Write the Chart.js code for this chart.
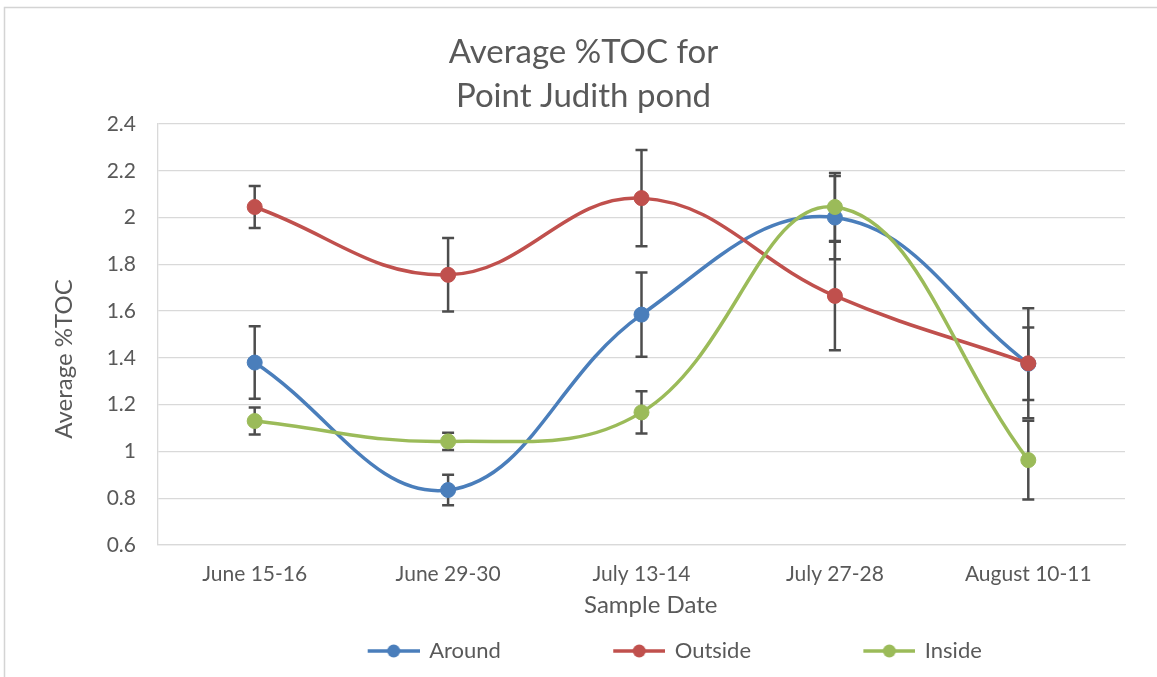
<!DOCTYPE html>
<html>
<head>
<meta charset="utf-8">
<script src="https://cdn.jsdelivr.net/npm/chart.js@4"></script>
<style>
  body { margin: 0; background: #fff; }
</style>
</head>
<body>
<canvas id="tocChart" width="1157" height="677"></canvas>
<script>
const sampleDates = ['June 15-16', 'June 29-30', 'July 13-14', 'July 27-28', 'August 10-11'];

const around = [1.38, 0.835, 1.585, 2.0, 1.375];
const aroundErr = [0.155, 0.065, 0.18, 0.178, 0.155];

const outside = [2.045, 1.755, 2.083, 1.665, 1.377];
const outsideErr = [0.09, 0.157, 0.206, 0.232, 0.235];

const inside = [1.13, 1.043, 1.167, 2.045, 0.963];
const insideErr = [0.058, 0.037, 0.09, 0.145, 0.168];

const yTicks = [0.6, 0.8, 1, 1.2, 1.4, 1.6, 1.8, 2, 2.2, 2.4];

const TEXT = '#595959';
const GRID = '#d9d9d9';

// legend marker: blank lead-in, then line with a dot
function legendMarker(color) {
    const c = document.createElement('canvas');
    c.width = 120;
    c.height = 16;
    const g = c.getContext('2d');
    g.strokeStyle = color;
    g.lineWidth = 3.5;
    g.beginPath();
    g.moveTo(68, 8);
    g.lineTo(120, 8);
    g.stroke();
    g.fillStyle = color;
    g.beginPath();
    g.arc(94, 8, 6.5, 0, Math.PI * 2);
    g.fill();
    return c;
}

const errorBars = {
    id: 'errorBars',
    beforeDatasetsDraw(chart) {
        const { ctx, scales: { x, y } } = chart;
        ctx.save();
        ctx.strokeStyle = '#4d4d4d';
        ctx.lineWidth = 2.5;
        chart.data.datasets.forEach(ds => {
            ds.errors.forEach((e, i) => {
                const px = x.getPixelForValue(i);
                const top = y.getPixelForValue(ds.data[i] + e);
                const bot = y.getPixelForValue(ds.data[i] - e);
                ctx.beginPath();
                ctx.moveTo(px, top); ctx.lineTo(px, bot);
                ctx.moveTo(px - 6, top); ctx.lineTo(px + 6, top);
                ctx.moveTo(px - 6, bot); ctx.lineTo(px + 6, bot);
                ctx.stroke();
            });
        });
        ctx.restore();
    }
};

const frame = {
    id: 'frame',
    beforeDraw(chart) {
        const ctx = chart.ctx;
        ctx.save();
        ctx.fillStyle = '#fff';
        ctx.fillRect(0, 0, chart.width, chart.height);
        ctx.strokeStyle = '#d4d4d4';
        ctx.lineWidth = 1.5;
        ctx.strokeRect(4.5, 7.5, chart.width, chart.height);
        ctx.restore();
    }
};

const series = [
    { label: 'Around', data: around, errors: aroundErr, color: '#4a7ebb', order: 3 },
    { label: 'Outside', data: outside, errors: outsideErr, color: '#c0504d', order: 2 },
    { label: 'Inside', data: inside, errors: insideErr, color: '#9bbb59', order: 1 }
];

const legendGap = '      ';

new Chart(document.getElementById('tocChart'), {
    type: 'line',
    data: {
        labels: sampleDates,
        datasets: series.map(s => ({
            label: s.label,
            data: s.data,
            errors: s.errors,
            order: s.order,
            borderColor: s.color,
            backgroundColor: s.color,
            borderWidth: 3.5,
            pointRadius: 7.5,
            pointBorderWidth: 1,
            pointHoverRadius: 7.5,
            tension: 0.4,
            fill: false
        }))
    },
    options: {
        responsive: false,
        animation: false,
        layout: { padding: { left: 42, right: 32, top: 8, bottom: 5 } },
        font: { family: 'Lato' },
        plugins: {
            title: {
                display: true,
                text: ['Average %TOC for', 'Point Judith pond'],
                color: TEXT,
                font: { family: 'Lato', size: 33, weight: 'normal', lineHeight: 1.333 },
                padding: { top: 22, bottom: 6 }
            },
            legend: {
                position: 'bottom',
                fullSize: false,
                labels: {
                    color: TEXT,
                    font: { family: 'Lato', size: 22 },
                    usePointStyle: true,
                    pointStyleWidth: 117,
                    padding: 12,
                    generateLabels(chart) {
                        return chart.data.datasets.map((ds, i) => ({
                            text: ds.label + (i < chart.data.datasets.length - 1 ? legendGap : ''),
                            fillStyle: ds.borderColor,
                            strokeStyle: ds.borderColor,
                            fontColor: TEXT,
                            lineWidth: 0,
                            pointStyle: legendMarker(ds.borderColor),
                            hidden: false,
                            datasetIndex: i
                        }));
                    }
                }
            },
            tooltip: { enabled: false }
        },
        scales: {
            x: {
                offset: true,
                grid: { display: false, drawTicks: false },
                border: { display: true, color: GRID, width: 1.3 },
                ticks: { color: TEXT, font: { family: 'Lato', size: 21 }, padding: 17, maxRotation: 0 },
                title: {
                    display: true,
                    text: '   Sample Date',
                    color: TEXT,
                    font: { family: 'Lato', size: 24 },
                    padding: { top: 0, bottom: 8 }
                },
                afterFit(scale) { scale.height = 83; }
            },
            y: {
                min: yTicks[0],
                max: yTicks[yTicks.length - 1],
                afterBuildTicks(scale) { scale.ticks = yTicks.map(v => ({ value: v })); },
                grid: { color: GRID, lineWidth: 1.3, drawTicks: false },
                border: { display: true, color: GRID, width: 1.3 },
                ticks: {
                    color: TEXT,
                    font: { family: 'Lato', size: 21 },
                    padding: 22,
                    callback: v => String(+v.toFixed(1))
                },
                title: {
                    display: true,
                    text: 'Average %TOC        ',
                    color: TEXT,
                    font: { family: 'Lato', size: 24 },
                    padding: { top: 8, bottom: 0 }
                },
                afterFit(scale) { scale.width = 116; }
            }
        }
    },
    plugins: [frame, errorBars]
});
</script>
</body>
</html>
